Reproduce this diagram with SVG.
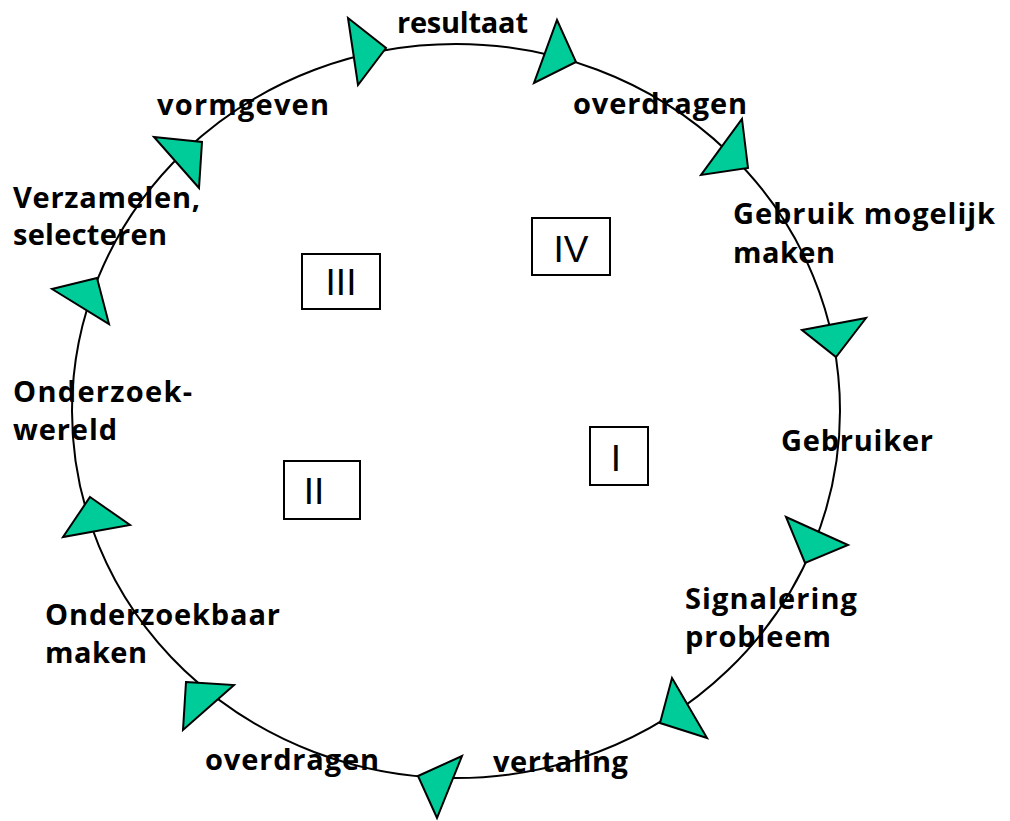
<svg xmlns="http://www.w3.org/2000/svg" width="1010" height="821" viewBox="0 0 1010 821">
<style>
.lbl{font-family:"Open Sans","Noto Sans","DejaVu Sans",sans-serif;font-weight:bold;font-size:29px;fill:#000}
.tri{fill:#00CC99;stroke:#000;stroke-width:2;stroke-linejoin:miter}
.box{fill:#fff;stroke:#000;stroke-width:2}
.num{font-family:"Liberation Sans",Arial,sans-serif;font-size:37px;fill:#000;text-anchor:middle}
</style>
<rect width="1010" height="821" fill="#fff"/>
<g id="connectors">
<ellipse cx="456" cy="411" rx="384" ry="367" fill="none" stroke="#000" stroke-width="2"/>
</g>
<g id="arrows">
<polygon class="tri" points="348,18 386,48 358,85"/>
<polygon class="tri" points="557,20 576,62 534,83"/>
<polygon class="tri" points="742,119 748,168 701,175"/>
<polygon class="tri" points="802,330 866,318 836,357"/>
<polygon class="tri" points="786,517 848,545 805,563"/>
<polygon class="tri" points="672,678 707,738 660,723"/>
<polygon class="tri" points="418,776 462,756 437,818"/>
<polygon class="tri" points="186,682 234,685 183,730"/>
<polygon class="tri" points="90,497 130,525 63,537"/>
<polygon class="tri" points="52,289 97,278 109,324"/>
<polygon class="tri" points="154,137 202,142 199,188"/>
</g>
<g id="box-III"><rect class="box" x="302" y="254" width="78" height="55"/><text class="num" x="341" y="295">III</text></g>
<g id="box-IV"><rect class="box" x="532" y="218" width="78" height="57"/><text class="num" x="571" y="262">IV</text></g>
<g id="box-II"><rect class="box" x="284" y="461" width="76" height="58"/><text class="num" x="314" y="504">II</text></g>
<g id="box-I"><rect class="box" x="590" y="427" width="58" height="58"/><text class="num" x="616" y="471">I</text></g>
<g id="labels">
<text class="lbl" x="397" y="33" textLength="131" lengthAdjust="spacing">resultaat</text>
<text class="lbl" x="573" y="114" textLength="174" lengthAdjust="spacing">overdragen</text>
<text class="lbl" x="733" y="224" textLength="262" lengthAdjust="spacing">Gebruik mogelijk</text>
<text class="lbl" x="733" y="263" textLength="102" lengthAdjust="spacing">maken</text>
<text class="lbl" x="781" y="451" textLength="152" lengthAdjust="spacing">Gebruiker</text>
<text class="lbl" x="685" y="609" textLength="172" lengthAdjust="spacing">Signalering</text>
<text class="lbl" x="685" y="647" textLength="146" lengthAdjust="spacing">probleem</text>
<text class="lbl" x="493" y="772" textLength="135" lengthAdjust="spacing">vertaling</text>
<text class="lbl" x="205" y="770" textLength="174" lengthAdjust="spacing">overdragen</text>
<text class="lbl" x="45" y="625" textLength="235" lengthAdjust="spacing">Onderzoekbaar</text>
<text class="lbl" x="45" y="663" textLength="102" lengthAdjust="spacing">maken</text>
<text class="lbl" x="13" y="402" textLength="179" lengthAdjust="spacing">Onderzoek-</text>
<text class="lbl" x="13" y="440" textLength="104" lengthAdjust="spacing">wereld</text>
<text class="lbl" x="13" y="208" textLength="187" lengthAdjust="spacing">Verzamelen,</text>
<text class="lbl" x="13" y="245" textLength="154" lengthAdjust="spacing">selecteren</text>
<text class="lbl" x="157" y="115" textLength="172" lengthAdjust="spacing">vormgeven</text>
</g>
</svg>
